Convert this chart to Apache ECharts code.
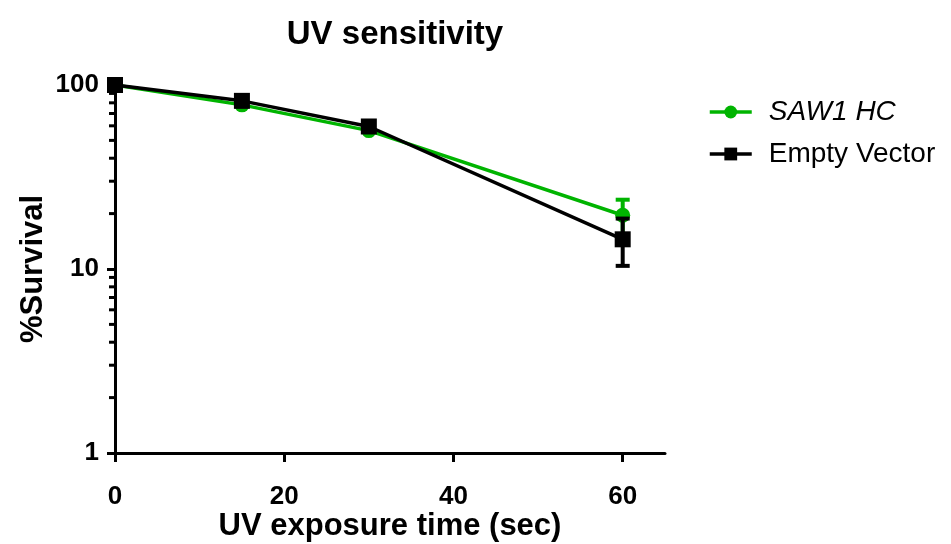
<!DOCTYPE html>
<html>
<head>
<meta charset="utf-8">
<script src="https://cdn.jsdelivr.net/npm/echarts@6/dist/echarts.min.js"></script>
<style>
  html, body { margin: 0; padding: 0; background: #fff; }
  #chart { width: 951px; height: 544px; }
</style>
</head>
<body>
<div id="chart"></div>
<script>
// exposure times (sec)
const times = [0, 15, 30, 60];
// % survival
const saw1 = [100, 78, 56.5, 19.6];
const emptyVec = [100, 82, 59.5, 14.5];
// error bars at 60 sec: [x, low, high]
const saw1Err = [[60, 15.5, 23.8]];
const emptyErr = [[60, 10.4, 18.8]];
// log axis minor tick values
const minorVals = [2, 3, 4, 5, 6, 7, 8, 9, 20, 30, 40, 50, 60, 70, 80, 90];
const xTicks = [0, 20, 40, 60];

const green = '#00b400';
const font = 'Liberation Sans, Arial, sans-serif';

const chart = echarts.init(document.getElementById('chart'));

//误差线
function errorBar(color) {
  return function (params, api) {
    const x = api.value(0);
    const lo = api.coord([x, api.value(1)]);
    const hi = api.coord([x, api.value(2)]);
    const w = 7;
    const style = { stroke: color, lineWidth: 4 };
    return {
      type: 'group',
      children: [
        { type: 'line', shape: { x1: lo[0], y1: lo[1], x2: hi[0], y2: hi[1] }, style: style },
        { type: 'line', shape: { x1: lo[0] - w, y1: lo[1], x2: lo[0] + w, y2: lo[1] }, style: style },
        { type: 'line', shape: { x1: hi[0] - w, y1: hi[1], x2: hi[0] + w, y2: hi[1] }, style: style }
      ]
    };
  };
}

const option = {
  backgroundColor: '#fff',
  animation: false,
  title: {
    text: 'UV sensitivity',
    left: 390,
    top: 13,
    textAlign: 'center',
    textStyle: { fontFamily: font, fontSize: 33, fontWeight: 'bold', color: '#000' }
  },
  legend: {
    orient: 'vertical',
    left: 703,
    top: 93,
    itemWidth: 42,
    itemHeight: 16,
    itemGap: 14,
    data: ['SAW1 HC', 'Empty Vector'],
    lineStyle: { width: 3.5 },
    formatter: function (name) {
      return name === 'SAW1 HC' ? '{i|' + name + '}' : '{n|' + name + '}';
    },
    textStyle: {
      fontFamily: font, fontSize: 28, color: '#000',
      rich: {
        i: { fontFamily: font, fontSize: 28, fontStyle: 'italic', color: '#000', padding: [0, 0, 0, 12] },
        n: { fontFamily: font, fontSize: 28, color: '#000', padding: [0, 0, 0, 12] }
      }
    }
  },
  grid: { left: 115, right: 286, top: 85, bottom: 91, outerBoundsMode: 'none', containLabel: false },
  xAxis: {
    type: 'value',
    min: 0,
    max: 65,
    interval: 20,
    name: 'UV exposure time (sec)',
    nameLocation: 'middle',
    nameGap: 58,
    nameMoveOverlap: false,
    nameTextStyle: { fontFamily: font, fontSize: 31, fontWeight: 'bold', color: '#000' },
    axisLine: { onZero: false, lineStyle: { color: '#000', width: 3 } },
    axisTick: { customValues: xTicks, length: 9, lineStyle: { color: '#000', width: 3 } },
    axisLabel: {
      customValues: xTicks,
      margin: 31,
      fontFamily: font, fontSize: 26, fontWeight: 'bold', color: '#000'
    },
    splitLine: { show: false }
  },
  yAxis: {
    type: 'log',
    logBase: 10,
    min: 1,
    max: 100,
    name: '%Survival',
    nameLocation: 'middle',
    nameGap: 66,
    nameMoveOverlap: false,
    nameTextStyle: { fontFamily: font, fontSize: 31, fontWeight: 'bold', color: '#000' },
    axisLine: { show: true, lineStyle: { color: '#000', width: 3 } },
    axisTick: { show: true, length: 8, lineStyle: { color: '#000', width: 3 } },
    axisLabel: { margin: 16, fontFamily: font, fontSize: 26, fontWeight: 'bold', color: '#000' },
    splitLine: { show: false }
  },
  series: [
    {
      name: 'minor',
      type: 'custom',
      silent: true,
      clip: false,
      data: minorVals.map(v => [0, v]),
      renderItem: function (params, api) {
        const p = api.coord([0, api.value(1)]);
        return {
          type: 'line',
          shape: { x1: p[0] - 6, y1: p[1], x2: p[0], y2: p[1] },
          style: { stroke: '#000', lineWidth: 3 }
        };
      },
      z: 1
    },
    {
      name: 'SAW1 HC err',
      type: 'custom',
      clip: false,
      data: saw1Err,
      renderItem: errorBar(green),
      z: 2
    },
    {
      name: 'SAW1 HC',
      type: 'line',
      data: times.map((t, i) => [t, saw1[i]]),
      symbol: 'circle',
      symbolSize: 15,
      clip: false,
      itemStyle: { color: green },
      lineStyle: { color: green, width: 3.5 },
      z: 3
    },
    {
      name: 'Empty Vector err',
      type: 'custom',
      clip: false,
      data: emptyErr,
      renderItem: errorBar('#000'),
      z: 4
    },
    {
      name: 'Empty Vector',
      type: 'line',
      data: times.map((t, i) => [t, emptyVec[i]]),
      symbol: 'rect',
      symbolSize: 16,
      clip: false,
      itemStyle: { color: '#000' },
      lineStyle: { color: '#000', width: 3.5 },
      z: 5
    }
  ]
};

chart.setOption(option);
</script>
</body>
</html>
